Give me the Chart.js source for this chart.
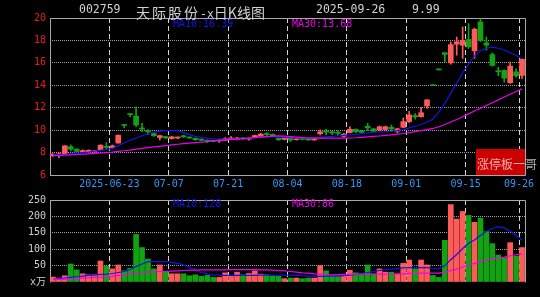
<!DOCTYPE html>
<html>
<head>
<meta charset="utf-8">
<script src="https://cdn.jsdelivr.net/npm/chart.js@4.4.1/dist/chart.umd.min.js"></script>
<style>
  html, body { margin: 0; padding: 0; background: #000; }
  #wrap { position: relative; width: 540px; height: 297px; overflow: hidden; background: #000; }
  canvas { position: absolute; left: 0; }
  #kline { top: 0; }
  #vol { top: 190px; }
  .t { position: absolute; top: 2px; line-height: 14px; color: #d2d2d2; white-space: nowrap; }
  .n { font: 11.5px "DejaVu Sans Mono", monospace; }
  .c { font: 14px "Noto Sans CJK SC", sans-serif; }
</style>
</head>
<body>
<div id="wrap">
  <canvas id="kline" width="540" height="195"></canvas>
  <canvas id="vol" width="540" height="107"></canvas>
  <div class="t n" style="left:79px">002759</div>
  <div class="t c" style="left:136px;letter-spacing:2px">天际股份</div>
  <div class="t c" style="left:200px"><span class="n">-x</span>日K线图</div>
  <div class="t n" style="left:316px">2025-09-26</div>
  <div class="t n" style="left:412px">9.99</div>
</div>
<script>
// trading days shown (one slot each)
const dates = [
  '06-09','06-10','06-11','06-12','06-13','06-16','06-17','06-18','06-19','06-20',
  '06-23','06-24','06-25','06-26','06-27','06-30','07-01','07-02','07-03','07-04',
  '07-07','07-08','07-09','07-10','07-11','07-14','07-15','07-16','07-17','07-18',
  '07-21','07-22','07-23','07-24','07-25','07-28','07-29','07-30','07-31','08-01',
  '08-04','08-05','08-06','08-07','08-08','08-11','08-12','08-13','08-14','08-15',
  '08-18','08-19','08-20','08-21','08-22','08-25','08-26','08-27','08-28','08-29',
  '09-01','09-02','09-03','09-04','09-05','09-08','09-09','09-10','09-11','09-12',
  '09-15','09-16','09-17','09-18','09-19','09-22','09-23','09-24','09-25','09-26'
];
const tickIdx = [10, 20, 30, 40, 50, 60, 70, 79];
const tickLabels = ['2025-06-23', '07-07', '07-21', '08-04', '08-18', '09-01', '09-15', '09-26'];

const open = [
  7.72, 7.80, 7.88, 8.52, 8.30, 8.05, 8.08, 8.05, 8.25, 8.55,
  8.45, 8.85, 10.48, 11.45, 11.26, 10.20, 9.95, 9.70, 9.34, 9.43,
  9.25, 9.30, 9.50, 9.38, 9.28, 9.20, 9.10, 9.05, 9.04, 9.10,
  9.18, 9.16, 9.30, 9.20, 9.38, 9.45, 9.65, 9.62, 9.28, 9.18,
  9.35, 9.15, 9.25, 9.20, 9.12, 9.68, 9.95, 9.85, 9.80, 9.45,
  9.78, 10.08, 9.95, 10.35, 10.12, 10.02, 10.05, 10.25, 9.90, 10.25,
  10.76, 11.30, 11.20, 12.15, 13.97, 15.37, 16.91, 16.00, 17.66, 17.57,
  18.08, 17.07, 19.65, 17.78, 16.74, 15.30, 15.32, 14.23, 15.20, 14.88
];
const high = [
  7.92, 7.98, 8.62, 8.68, 8.35, 8.25, 8.25, 8.20, 8.70, 8.90,
  8.68, 9.57, 10.50, 11.47, 12.09, 10.61, 10.05, 9.75, 9.55, 9.45,
  9.45, 9.40, 9.57, 9.40, 9.30, 9.22, 9.13, 9.10, 9.20, 9.33,
  9.43, 9.37, 9.33, 9.32, 9.57, 9.72, 9.78, 9.66, 9.30, 9.35,
  9.42, 9.28, 9.30, 9.25, 9.28, 10.02, 10.08, 9.90, 9.98, 9.72,
  10.30, 10.10, 10.00, 10.61, 10.17, 10.37, 10.37, 10.46, 10.17, 11.08,
  11.68, 11.47, 12.03, 12.72, 13.97, 15.37, 16.91, 17.87, 18.31, 19.20,
  19.50, 19.10, 19.94, 18.31, 16.89, 15.60, 15.40, 16.06, 15.47, 16.33
];
const low = [
  7.65, 7.55, 7.86, 8.15, 7.98, 8.02, 8.00, 8.00, 8.20, 8.25,
  8.40, 8.83, 10.20, 11.20, 10.31, 9.87, 9.60, 9.43, 9.13, 9.25,
  9.20, 9.22, 9.35, 9.25, 9.07, 9.04, 8.89, 8.95, 8.90, 9.07,
  9.13, 9.13, 9.18, 9.10, 9.35, 9.43, 9.48, 9.43, 9.07, 9.12,
  8.98, 9.10, 9.12, 9.08, 9.10, 9.57, 9.57, 9.60, 9.55, 9.38,
  9.75, 9.78, 9.72, 9.96, 9.80, 9.96, 10.00, 9.87, 9.75, 10.22,
  10.65, 10.98, 11.15, 11.94, 13.97, 15.37, 16.09, 15.88, 16.68, 16.39,
  17.28, 16.40, 17.90, 17.13, 15.70, 14.85, 14.28, 14.17, 14.73, 14.60
];
const close = [
  7.85, 7.84, 8.60, 8.30, 8.10, 8.18, 8.20, 8.15, 8.66, 8.45,
  8.60, 9.55, 10.42, 11.38, 10.46, 10.10, 9.85, 9.50, 9.51, 9.30,
  9.40, 9.36, 9.40, 9.30, 9.15, 9.10, 8.98, 9.00, 9.08, 9.25,
  9.30, 9.30, 9.22, 9.28, 9.52, 9.65, 9.60, 9.50, 9.15, 9.30,
  9.12, 9.22, 9.18, 9.12, 9.20, 9.85, 9.82, 9.75, 9.72, 9.65,
  10.08, 9.85, 9.80, 10.20, 9.90, 10.30, 10.30, 10.10, 10.12, 10.76,
  11.35, 11.18, 11.55, 12.70, 13.97, 15.37, 16.75, 17.63, 17.87, 18.00,
  17.42, 19.00, 18.00, 17.57, 15.77, 15.20, 14.64, 15.71, 14.85, 16.33
];
const ma10 = [
  7.80, 7.82, 7.85, 7.90, 7.95, 8.00, 8.05, 8.12, 8.20, 8.28,
  8.35, 8.62, 8.85, 9.10, 9.30, 9.50, 9.68, 9.82, 9.92, 9.96,
  9.96, 9.95, 9.78, 9.60, 9.45, 9.35, 9.27, 9.22, 9.20, 9.20,
  9.20, 9.22, 9.24, 9.27, 9.32, 9.38, 9.42, 9.42, 9.40, 9.36,
  9.32, 9.30, 9.30, 9.32, 9.34, 9.36, 9.40, 9.45, 9.50, 9.54,
  9.57, 9.62, 9.68, 9.75, 9.80, 9.84, 9.86, 9.90, 9.96, 10.05,
  10.20, 10.35, 10.50, 10.72, 11.00, 11.60, 12.40, 13.30, 14.20, 15.10,
  15.90, 16.60, 17.10, 17.30, 17.40, 17.30, 17.15, 16.90, 16.65, 16.39
];
const ma30 = [
  7.72, 7.74, 7.77, 7.80, 7.83, 7.86, 7.89, 7.92, 7.96, 8.00,
  8.04, 8.10, 8.16, 8.22, 8.30, 8.37, 8.44, 8.50, 8.56, 8.62,
  8.68, 8.74, 8.79, 8.84, 8.88, 8.93, 8.98, 9.03, 9.08, 9.13,
  9.17, 9.20, 9.24, 9.28, 9.32, 9.37, 9.42, 9.46, 9.48, 9.46,
  9.43, 9.38, 9.33, 9.29, 9.28, 9.28, 9.28, 9.28, 9.28, 9.28,
  9.30, 9.32, 9.36, 9.40, 9.44, 9.48, 9.53, 9.58, 9.64, 9.70,
  9.78, 9.86, 9.95, 10.04, 10.15, 10.30, 10.50, 10.72, 10.95, 11.20,
  11.45, 11.70, 11.95, 12.20, 12.45, 12.70, 12.95, 13.20, 13.45, 13.68
];
const volume = [
  15, 12, 19, 55, 37, 25, 22, 22, 64, 49,
  40, 52, 34, 42, 145, 105, 70, 40, 52, 32,
  25, 25, 25, 19, 22, 17, 20, 14, 14, 28,
  17, 30, 22, 26, 34, 24, 22, 19, 17, 10,
  12, 12, 10, 12, 12, 50, 34, 18, 18, 18,
  36, 28, 22, 52, 24, 40, 30, 30, 24, 57,
  67, 40, 67, 52, 20, 14, 127, 236, 192, 215,
  203, 182, 195, 154, 117, 82, 74, 120, 79, 105
];
const volMa10 = [
  8, 10, 12, 14, 16, 18, 20, 21, 23, 24,
  26, 29, 32, 38, 47, 55, 62, 62, 63, 62,
  60, 57, 52, 45, 36, 29, 24, 22, 21, 20,
  20, 20, 20, 20, 20, 21, 21, 20, 20, 21,
  21, 20, 19, 18, 18, 17, 18, 18, 18, 19,
  21, 23, 26, 29, 32, 35, 37, 39, 41, 43,
  44, 44, 44, 44, 42, 40, 50, 68, 84, 102,
  118, 128, 142, 155, 163, 169, 165, 155, 142, 128
];
const volMa30 = [
  7, 8, 9, 10, 11, 12, 13, 14, 15, 17,
  18, 20, 22, 25, 27, 29, 30, 31, 32, 32,
  33, 34, 35, 36, 36, 37, 37, 37, 37, 37,
  38, 38, 38, 38, 38, 37, 37, 36, 35, 34,
  32, 30, 28, 27, 25, 24, 23, 22, 22, 23,
  23, 24, 24, 24, 24, 24, 24, 24, 25, 25,
  26, 26, 27, 27, 27, 27, 30, 35, 39, 45,
  51, 57, 62, 67, 71, 73, 76, 80, 83, 86
];

const UP = '#ff5a5a';
const DOWN = '#12a312';
const MA10_COLOR = '#1414e8';
const MA30_COLOR = '#ee00ee';
const last = dates.length - 1;

const slot = dates.map((d, i) => i + 0.5);
const candleColor = close.map((c, i) => (c > open[i] ? UP : DOWN));
const pts = (arr) => arr.map((v, i) => ({ x: slot[i], y: v }));

const xAxis = (showLabels) => ({
  type: 'linear',
  min: 0,
  max: dates.length,
  offset: false,
  afterBuildTicks: (s) => { s.ticks = tickIdx.map((v) => ({ value: v })); },
  afterFit: (s) => { s.height = showLabels ? 20 : 0; s.paddingLeft = 0; s.paddingRight = 0; },
  ticks: {
    display: showLabels,
    autoSkip: false,
    maxRotation: 0,
    padding: 3,
    color: '#3296fa',
    font: { family: '"DejaVu Sans Mono"', size: 10 },
    callback: (v, i) => tickLabels[i]
  },
  grid: { color: '#d4d4d4', drawTicks: false, offset: false },
  border: { display: false, dash: [5, 3] }
});

const frame = {
  id: 'frame',
  beforeDatasetsDraw(chart, args, opts) {
    const { ctx, chartArea: a } = chart;
    const l = Math.floor(a.left) + 0.5, r = Math.floor(a.right) + 0.5;
    const t = Math.floor(a.top) + 0.5, b = Math.floor(a.bottom) + 0.5;
    ctx.save();
    ctx.strokeStyle = '#a8a8a8';
    ctx.lineWidth = 1;
    ctx.beginPath();
    ctx.moveTo(l, b); ctx.lineTo(l, t); ctx.lineTo(r, t); ctx.lineTo(r, b);
    if (opts.bottom) ctx.lineTo(l, b);
    ctx.stroke();
    ctx.restore();
  }
};

const maText = {
  id: 'maText',
  afterDraw(chart, args, opts) {
    const { ctx } = chart;
    ctx.save();
    ctx.font = '10px "DejaVu Sans Mono"';
    ctx.textBaseline = 'middle';
    opts.items.forEach((it) => { ctx.fillStyle = it.color; ctx.fillText(it.text, it.x, it.y); });
    ctx.restore();
  }
};

const stamp = {
  id: 'stamp',
  afterDatasetsDraw(chart) {
    const { ctx, chartArea: a } = chart;
    ctx.save();
    ctx.fillStyle = '#cc0000';
    ctx.fillRect(a.right - 49, a.bottom - 26, 49, 26);
    ctx.font = '12px "Noto Sans CJK SC"';
    ctx.textBaseline = 'middle';
    ctx.fillStyle = 'rgba(255,255,255,0.68)';
    ctx.fillText('涨停板一哥', a.right - 48, a.bottom - 11);
    ctx.restore();
  }
};

new Chart(document.getElementById('kline'), {
  type: 'bar',
  data: {
    datasets: [
      { type: 'line', data: pts(ma30), borderColor: MA30_COLOR, borderWidth: 1.2, pointRadius: 0, order: 0 },
      { type: 'line', data: pts(ma10), borderColor: MA10_COLOR, borderWidth: 1.2, pointRadius: 0, order: 1 },
      {
        data: slot.map((x, i) => ({ x, y: [open[i], close[i]] })),
        backgroundColor: candleColor, barThickness: 5, minBarLength: 1, grouped: false, order: 2
      },
      {
        data: slot.map((x, i) => ({ x, y: [low[i], high[i]] })),
        backgroundColor: candleColor, barThickness: 1, minBarLength: 1, grouped: false, order: 3
      }
    ]
  },
  options: {
    responsive: false,
    animation: false,
    devicePixelRatio: 1,
    events: [],
    layout: { padding: { top: 18, right: 15, bottom: 0, left: 0 } },
    scales: {
      x: xAxis(true),
      y: {
        min: 6,
        max: 20,
        afterFit: (s) => { s.width = 50; },
        ticks: { stepSize: 2, padding: 4, color: '#f01c1c', font: { family: '"DejaVu Sans Mono"', size: 10 } },
        grid: { color: '#a0a0a0', drawTicks: false },
        border: { display: false, dash: [1, 1] }
      }
    },
    plugins: {
      legend: { display: false },
      tooltip: { enabled: false },
      frame: { bottom: true },
      maText: {
        items: [
          { text: 'MA10:' + ma10[last].toFixed(2), color: MA10_COLOR, x: 173, y: 24 },
          { text: 'MA30:' + ma30[last].toFixed(2), color: MA30_COLOR, x: 292, y: 24 }
        ]
      }
    }
  },
  plugins: [frame, stamp, maText]
});

new Chart(document.getElementById('vol'), {
  type: 'bar',
  data: {
    datasets: [
      { type: 'line', data: pts(volMa30), borderColor: MA30_COLOR, borderWidth: 1.2, pointRadius: 0, order: 0 },
      { type: 'line', data: pts(volMa10), borderColor: MA10_COLOR, borderWidth: 1.2, pointRadius: 0, order: 1 },
      {
        data: slot.map((x, i) => ({ x, y: volume[i] })),
        backgroundColor: candleColor, barThickness: 5, grouped: false, order: 2
      }
    ]
  },
  options: {
    responsive: false,
    animation: false,
    devicePixelRatio: 1,
    events: [],
    layout: { padding: { top: 9, right: 15, bottom: 15, left: 0 } },
    scales: {
      x: xAxis(false),
      y: {
        min: 0,
        max: 250,
        afterFit: (s) => { s.width = 50; },
        ticks: {
          stepSize: 50,
          padding: 4,
          color: '#cfcfcf',
          font: { family: '"DejaVu Sans Mono", "Noto Sans CJK SC"', size: 10 },
          callback: (v) => (v === 0 ? 'x万' : v)
        },
        grid: { color: (c) => (c.tick && c.tick.value === 0 ? 'rgba(0,0,0,0)' : '#a0a0a0'), drawTicks: false },
        border: { display: false, dash: [1, 1] }
      }
    },
    plugins: {
      legend: { display: false },
      tooltip: { enabled: false },
      frame: { bottom: false },
      maText: {
        items: [
          { text: 'MA10:' + Math.round(volMa10[last]), color: MA10_COLOR, x: 173, y: 14 },
          { text: 'MA30:' + Math.round(volMa30[last]), color: MA30_COLOR, x: 292, y: 14 }
        ]
      }
    }
  },
  plugins: [frame, maText]
});
</script>
</body>
</html>
